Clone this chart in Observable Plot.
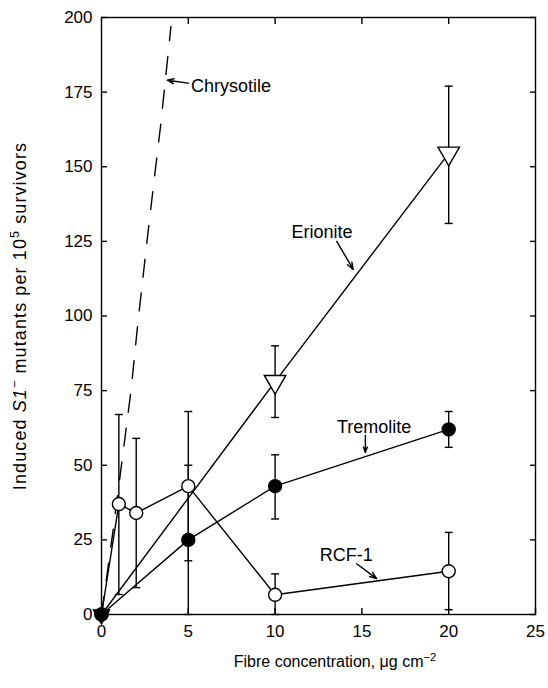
<!DOCTYPE html>
<html><head><meta charset="utf-8">
<script src="https://cdn.jsdelivr.net/npm/d3@7"></script>
<script src="https://cdn.jsdelivr.net/npm/@observablehq/plot@0.6"></script>
<style>
body{margin:0;background:#fff}
svg{font-family:"Liberation Sans",Arial,sans-serif}
</style>
</head><body><div id="chart"></div>
<script>
// Erionite (open downward triangles)
const erioniteX  = [0, 10, 20];
const erioniteY  = [0, 78, 154.5];
const erioniteLo = [null, 66, 131];
const erioniteHi = [null, 90, 177];
// Tremolite (filled circles)
const tremoliteX  = [0, 5, 10, 20];
const tremoliteY  = [0, 25, 43, 62];
const tremoliteLo = [null, 0, 32, 56];
const tremoliteHi = [null, 50, 53.5, 68];
// RCF-1 (open circles)
const rcfX  = [0, 1, 2, 5, 10, 20];
const rcfY  = [0, 37, 34, 43, 6.6, 14.5];
const rcfLo = [null, 6.7, 9, 18, 0, 1.6];
const rcfHi = [null, 67, 59, 68, 13.6, 27.5];
// Chrysotile (dashed curve)
const chrysotileX = [0, 0.64, 1.7, 2.1, 2.68, 3.04, 3.41, 4.0];
const chrysotileY = [0, 27, 75, 98, 128, 146, 164, 197];
// Axis ticks
const xTicks = [0, 5, 10, 15, 20, 25];
const xTopTicks = [5, 10, 15, 20];
const yTicks = [0, 25, 50, 75, 100, 125, 150, 175, 200];
// Annotations
const annLabels = ["Chrysotile", "Erionite", "Tremolite", "RCF-1"];
const annX = [5.15, 12.7, 15.7, 14.1];
const annY = [177, 128, 62.6, 19.7];
const annAnchor = ["start", "middle", "middle", "middle"];
const arrowX1 = [5.0, 13.55, 15.2, 14.7];
const arrowY1 = [178, 125, 60, 17];
const arrowX2 = [3.78, 14.5, 15.2, 15.85];
const arrowY2 = [179, 115.6, 54.3, 12];

const mk = (X, Y, Lo, Hi) => X.map((x, i) => ({x, y: Y[i], lo: Lo[i], hi: Hi[i]}));
const erionite = mk(erioniteX, erioniteY, erioniteLo, erioniteHi);
const tremolite = mk(tremoliteX, tremoliteY, tremoliteLo, tremoliteHi);
const rcf = mk(rcfX, rcfY, rcfLo, rcfHi);
const chrysotile = chrysotileX.map((x, i) => ({x, y: chrysotileY[i]}));
const bars = [...erionite, ...tremolite, ...rcf].filter(d => d.lo != null);
const ann = annLabels.map((t, i) => ({t, x: annX[i], y: annY[i], a: annAnchor[i],
  x1: arrowX1[i], y1: arrowY1[i], x2: arrowX2[i], y2: arrowY2[i]}));

const cap = {draw(c, s) { const w = Math.sqrt(s / Math.PI); c.moveTo(-w, 0); c.lineTo(w, 0); }};
const FS = 17;   // tick labels
const AFS = 18;  // annotations
const SW = 1.4;

const chart = Plot.plot({
  width: 548, height: 688,
  marginLeft: 101, marginRight: 13, marginTop: 17, marginBottom: 74,
  style: {fontSize: FS + "px", fontFamily: "Liberation Sans, Arial, sans-serif", color: "black", background: "white"},
  x: {domain: [0, 25]},
  y: {domain: [0, 200]},
  marks: [
    Plot.frame({strokeWidth: SW}),
    Plot.axisX({ticks: xTicks, tickSize: -6, tickPadding: 16, label: null, fontSize: FS, strokeWidth: SW}),
    Plot.axisX({anchor: "top", ticks: xTopTicks, tickSize: -6, tickFormat: () => "", label: null, strokeWidth: SW}),
    Plot.axisY({ticks: yTicks, tickSize: -6, tickPadding: 15, label: null, fontSize: FS, strokeWidth: SW}),
    Plot.axisY({anchor: "right", ticks: yTicks, tickSize: -6, tickFormat: () => "", label: null, strokeWidth: SW}),
    Plot.line(chrysotile, {x: "x", y: "y", stroke: "black", strokeWidth: SW, strokeDasharray: "18,16", clip: true}),
    Plot.ruleX(bars, {x: "x", y1: "lo", y2: "hi", stroke: "black", strokeWidth: SW}),
    Plot.dot(bars, {x: "x", y: "lo", symbol: cap, r: 4, stroke: "black", strokeWidth: SW}),
    Plot.dot(bars, {x: "x", y: "hi", symbol: cap, r: 4, stroke: "black", strokeWidth: SW}),
    Plot.line(erionite, {x: "x", y: "y", stroke: "black", strokeWidth: SW}),
    Plot.line(tremolite, {x: "x", y: "y", stroke: "black", strokeWidth: SW}),
    Plot.line(rcf, {x: "x", y: "y", stroke: "black", strokeWidth: SW}),
    Plot.dot(rcf, {x: "x", y: "y", r: 6.5, fill: d => d.x === 0 ? "black" : "white", stroke: "black", strokeWidth: SW}),
    Plot.dot(erionite.filter(d => d.x !== 0), {x: "x", y: "y", symbol: "triangle", rotate: 180, r: 8, fill: "white", stroke: "black", strokeWidth: SW}),
    Plot.dot(erionite.filter(d => d.x === 0), {x: "x", y: "y", symbol: "triangle", rotate: 180, r: 6, fill: "black", stroke: "black", strokeWidth: SW}),
    Plot.dot(tremolite, {x: "x", y: "y", r: 6.5, fill: "black", stroke: "black", strokeWidth: SW}),
    Plot.arrow(ann, {x1: "x1", y1: "y1", x2: "x2", y2: "y2", stroke: "black", strokeWidth: SW, headLength: 8, headAngle: 40}),
    Plot.text(ann.filter(d => d.a === "start"), {x: "x", y: "y", text: "t", textAnchor: "start", fontSize: AFS, fill: "black"}),
    Plot.text(ann.filter(d => d.a === "middle"), {x: "x", y: "y", text: "t", textAnchor: "middle", fontSize: AFS, fill: "black"})
  ]
});
document.getElementById("chart").appendChild(chart);

const svg = d3.select(chart);
// y-axis title
const YFS = 18;
const yl = svg.append("text")
  .attr("transform", "translate(26,316) rotate(-90)")
  .attr("text-anchor", "middle")
  .attr("font-size", YFS)
  .attr("letter-spacing", "1.1px")
  .attr("fill", "black");
yl.append("tspan").text("Induced ");
yl.append("tspan").attr("font-style", "italic").text("S1");
yl.append("tspan").attr("baseline-shift", "super").attr("font-size", YFS * 0.7).text("\u2212");
yl.append("tspan").text(" mutants per 10");
yl.append("tspan").attr("baseline-shift", "super").attr("font-size", YFS * 0.7).text("5");
yl.append("tspan").text(" survivors");
// x-axis title
const XFS = 16;
const xl = svg.append("text")
  .attr("transform", "translate(335,667)")
  .attr("text-anchor", "middle")
  .attr("font-size", XFS)
  .attr("fill", "black");
xl.append("tspan").text("Fibre concentration, \u03bcg cm");
xl.append("tspan").attr("baseline-shift", "super").attr("font-size", XFS * 0.7).text("\u22122");
</script>
</body></html>
